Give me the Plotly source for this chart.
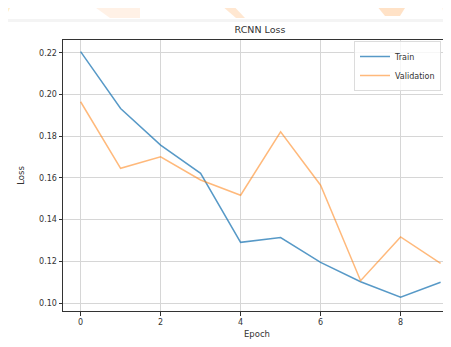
import plotly.graph_objects as go

epochs = [0, 1, 2, 3, 4, 5, 6, 7, 8, 9]
train_loss = [0.2205, 0.1933, 0.1757, 0.1622, 0.1291, 0.1314, 0.1195, 0.1102, 0.1028, 0.1100]
val_loss = [0.1965, 0.1646, 0.1701, 0.1590, 0.1517, 0.1821, 0.1565, 0.1107, 0.1317, 0.1190]
y_ticks = [0.10, 0.12, 0.14, 0.16, 0.18, 0.20, 0.22]
x_ticks = [0, 2, 4, 6, 8]

# page has an 8px body margin; compensate
OFF = 8
W, H = 451 - OFF, 347 - OFF
ML, MR, MT, MB = 63 - OFF, 0, 40 - OFF, 36
PW, PH = W - ML - MR, H - MT - MB


def px(xw):
    return (xw - OFF - ML) / PW


def py(yw):
    return 1 + (MT - (yw - OFF)) / PH


def poly(pts, color):
    path = "M " + " L ".join(f"{px(a):.4f},{py(b):.4f}" for a, b in pts) + " Z"
    return dict(type="path", xref="paper", yref="paper", path=path,
                fillcolor=color, line=dict(width=0), layer="below")


font = "DejaVu Sans"
fig = go.Figure()
fig.add_trace(go.Scatter(x=epochs, y=train_loss, mode="lines", name="Train",
                         line=dict(color="rgba(31,119,180,0.75)", width=1.5)))
fig.add_trace(go.Scatter(x=epochs, y=val_loss, mode="lines", name="Validation",
                         line=dict(color="rgba(255,127,14,0.55)", width=1.5)))

shapes = [
    poly([(0, 0), (14, 0), (6, 16), (0, 16)], "rgba(255,205,110,0.35)"),
    poly([(85, 0), (140, 0), (140, 18), (110, 18)], "rgba(255,190,140,0.22)"),
    poly([(215, 0), (228, 0), (245, 18), (236, 18)], "rgba(255,170,90,0.28)"),
    poly([(372, 0), (410, 0), (400, 16), (385, 16)], "rgba(255,160,70,0.30)"),
    poly([(440, 0), (451, 0), (451, 18), (445, 18)], "rgba(255,200,150,0.25)"),
    poly([(0, 19), (451, 19), (451, 22), (0, 22)], "rgba(230,230,230,0.45)"),
]

fig.update_layout(
    width=W, height=H,
    margin=dict(l=ML, r=MR, t=MT, b=MB),
    paper_bgcolor="white", plot_bgcolor="white",
    font=dict(family=font, size=8, color="#333"),
    title=dict(text="RCNN Loss", x=(260 - OFF) / W, xanchor="center", y=1 - (30 - OFF) / H,
               yanchor="middle", font=dict(family=font, size=9.5, color="#333")),
    showlegend=True,
    legend=dict(x=px(354), y=py(41), xanchor="left", yanchor="top",
                bgcolor="rgba(255,255,255,0.8)", bordercolor="#dcdcdc", borderwidth=1,
                font=dict(family=font, size=8, color="#333"), tracegroupgap=0,
                itemwidth=30),
    shapes=shapes,
)
fig.update_xaxes(range=[-0.44, 9.26], tickvals=x_ticks, ticks="outside", ticklen=3.5, tickcolor="#333",
                 showgrid=True, gridcolor="#d6d6d6", gridwidth=1, showline=True, linecolor="#333",
                 linewidth=1, mirror=True, zeroline=False,
                 title=dict(text="Epoch", font=dict(family=font, size=8.5, color="#333"), standoff=4),
                 tickfont=dict(family=font, size=8, color="#333"))
fig.update_yaxes(range=[0.0962, 0.2261], tickvals=y_ticks, tickformat=".2f", ticks="outside", ticklen=3.5,
                 tickcolor="#333", showgrid=True, gridcolor="#d6d6d6", gridwidth=1, showline=True,
                 linecolor="#333", linewidth=1, mirror=False, zeroline=False,
                 title=dict(text="Loss", font=dict(family=font, size=8.5, color="#333"), standoff=13),
                 tickfont=dict(family=font, size=8, color="#333"))

fig.write_html("out.html")
